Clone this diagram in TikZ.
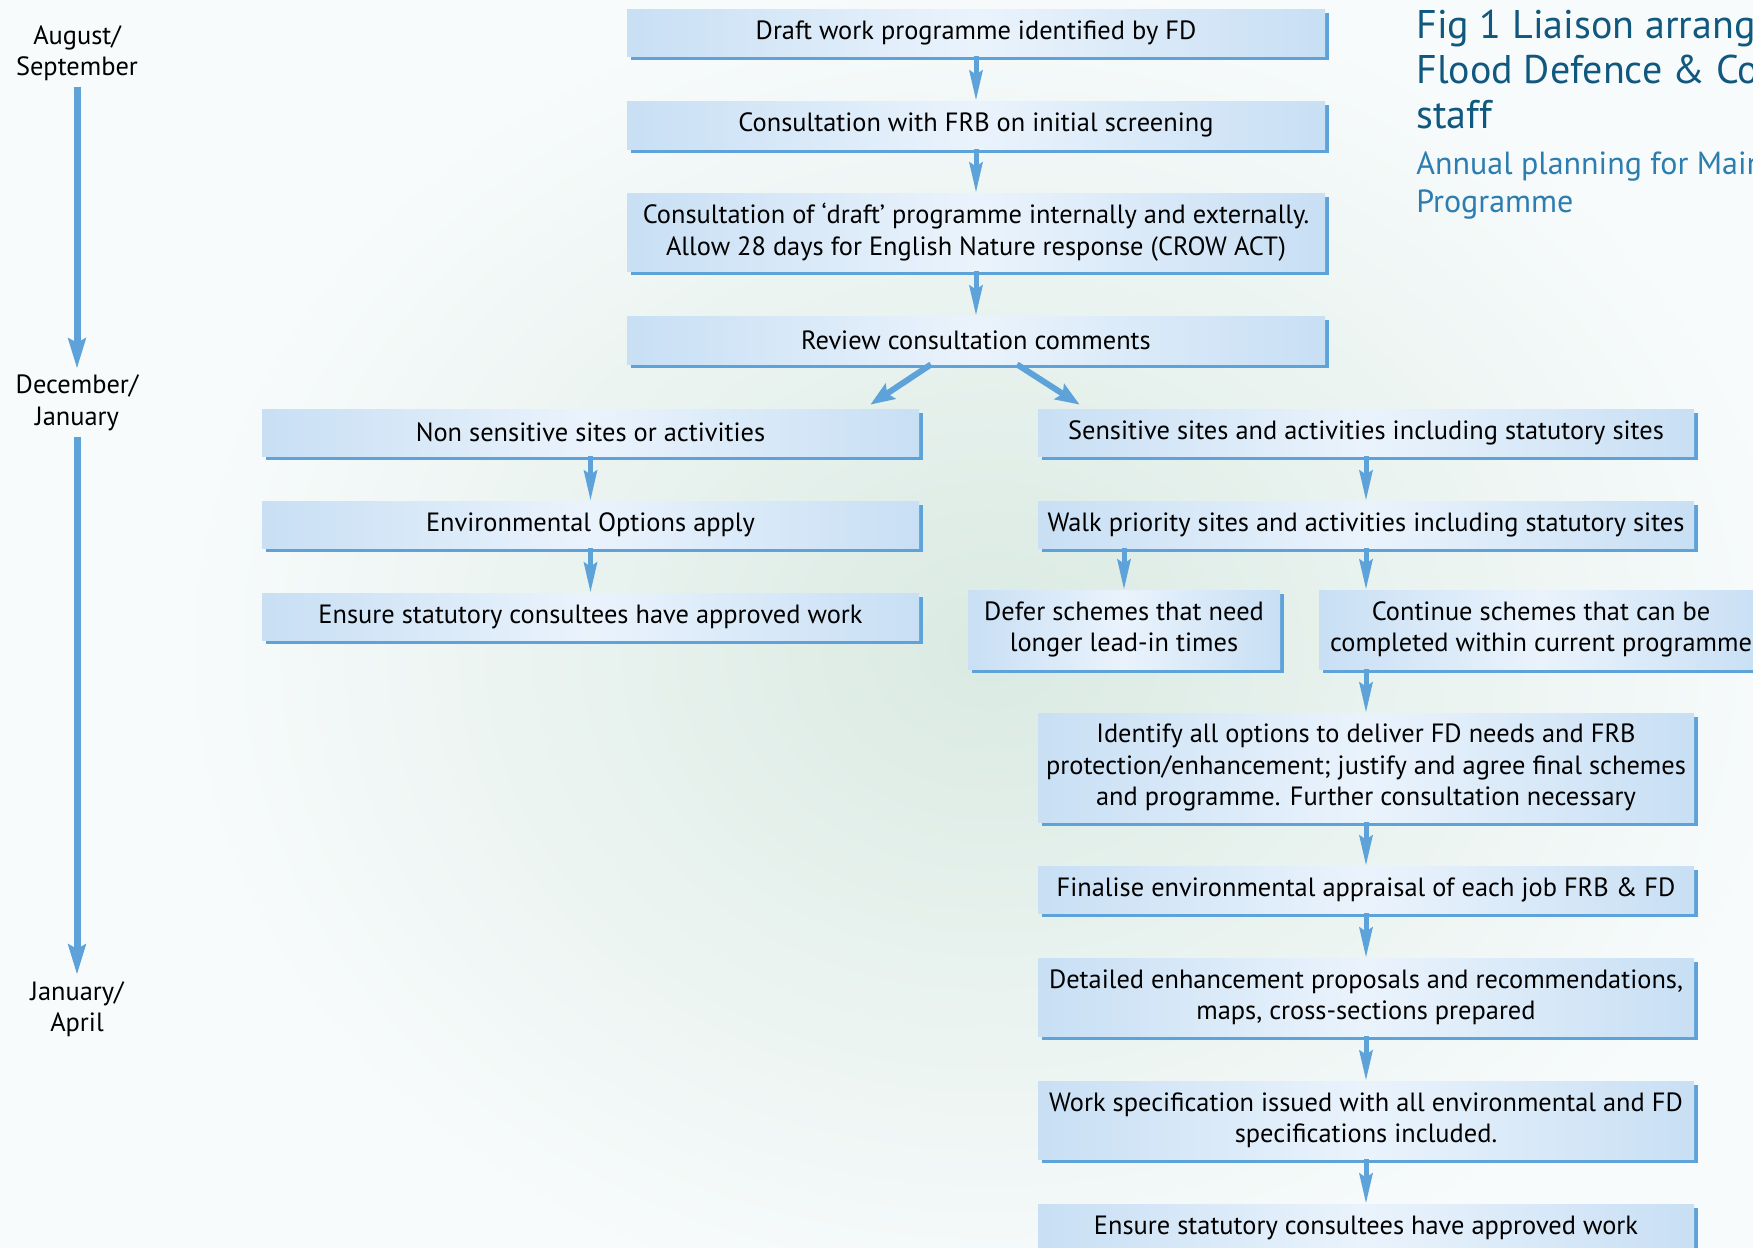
\documentclass[tikz,border=0pt]{standalone}
\usepackage{fontspec}
\setmainfont{PT Sans}
\usetikzlibrary{shadows,arrows.meta}
\definecolor{bleu}{HTML}{5DA3D9}
\definecolor{bord}{HTML}{C8DFF4}
\definecolor{centre}{HTML}{EAF3FC}
\definecolor{titre}{HTML}{11587F}
\definecolor{soustitre}{HTML}{2C7DB0}
\definecolor{fond}{HTML}{F8FBFC}
\definecolor{vert}{HTML}{DAEAE2}

\begin{document}
\begin{tikzpicture}[x=0.5pt,y=-0.5pt]
 \tikzstyle{boite}=[rectangle,align=center,inner sep=0pt,text=black,
   font=\fontsize{13.2}{15.7}\selectfont,
   left color=bord,right color=bord,middle color=centre,
   drop shadow={fill=bleu,opacity=1,shadow xshift=2pt,shadow yshift=-2pt}]
 \tikzstyle{fleche}=[-{Stealth[length=15pt,width=6.5pt,inset=2pt]},line width=2.5pt,draw=bleu]
 \tikzstyle{grosse}=[-{Stealth[length=12pt,width=9pt,inset=2pt]},line width=3pt,draw=bleu]
 \tikzstyle{temps}=[-{Stealth[length=15pt,width=8.5pt,inset=2pt]},line width=3.5pt,draw=bleu]
 \tikzstyle{mois}=[align=center,inner sep=3pt,font=\fontsize{13.2}{15.7}\selectfont]
 \useasboundingbox (0,0) rectangle (1753,1248);
 % fond
 \fill[fond] (0,0) rectangle (1753,1248);
 \shade[inner color=vert,outer color=fond] (990,650) ellipse (820 and 680);
 % titre
 \node[anchor=north west,align=left,inner sep=0pt,text=titre,
   font=\fontsize{20}{22.5}\selectfont] (titre) at (1416,10)
   {Fig 1 Liaison arrangements between\\Flood Defence \& Conservation\\staff};
 \node[anchor=north west,align=left,inner sep=0pt,text=soustitre,
   font=\fontsize{16}{19}\selectfont] (sous) at (1416,151)
   {Annual planning for Maintenance\\Programme};
 % calendrier
 \node[mois] (T1) at (77,53) {August/\\September};
 \node[mois] (T2) at (77,403) {December/\\January};
 \node[mois] (T3) at (77,1009) {January/\\April};
 \draw[temps] (T1) -- (T2);
 \draw[temps] (T2) -- (T3);
 % tronc commun
 \node[boite,minimum width=349pt,minimum height=23.5pt] (E1) at (976,32.5) {Draft work programme identified by FD};
 \node[boite,minimum width=349pt,minimum height=24pt] (E2) at (976,125) {Consultation with FRB on initial screening};
 \node[boite,minimum width=349pt,minimum height=39pt] (E3) at (976,232) {Consultation of `draft' programme internally and externally.\\Allow 28 days for English Nature response (CROW ACT)};
 \node[boite,minimum width=349pt,minimum height=24pt] (E4) at (976,340) {Review consultation comments};
 % branche gauche
 \node[boite,minimum width=328.5pt,minimum height=23.5pt] (L1) at (590.5,432.5) {Non sensitive sites or activities};
 \node[boite,minimum width=328.5pt,minimum height=23.5pt] (L2) at (590.5,524.5) {Environmental Options apply};
 \node[boite,minimum width=328.5pt,minimum height=23.5pt] (L3) at (590.5,616.5) {Ensure statutory consultees have approved work};
 % branche droite
 \node[boite,minimum width=328pt,minimum height=23.5pt] (R1) at (1366,432.5) {Sensitive sites and activities including statutory sites};
 \node[boite,minimum width=328pt,minimum height=23.5pt] (R2) at (1366,524.5) {Walk priority sites and activities including statutory sites};
 \node[boite,minimum width=156pt,minimum height=39.5pt] (R3) at (1124,629.5) {Defer schemes that need\\longer lead-in times};
 \node[boite,minimum width=222pt,minimum height=39.5pt] (R4) at (1541,629.5) {Continue schemes that can be\\completed within current programme};
 \node[boite,minimum width=328pt,minimum height=54.5pt] (R5) at (1366,767.5) {Identify all options to deliver FD needs and FRB\\protection/enhancement; justify and agree final schemes\\and programme. Further consultation necessary};
 \node[boite,minimum width=328pt,minimum height=23.5pt] (R6) at (1366,889.5) {Finalise environmental appraisal of each job FRB \& FD};
 \node[boite,minimum width=328pt,minimum height=39pt] (R7) at (1366,997) {Detailed enhancement proposals and recommendations,\\maps, cross-sections prepared};
 \node[boite,minimum width=328pt,minimum height=39pt] (R8) at (1366,1120) {Work specification issued with all environmental and FD\\specifications included.};
 \node[boite,minimum width=328pt,minimum height=23.5pt] (R9) at (1366,1227.5) {Ensure statutory consultees have approved work};
 % liaisons
 \draw[fleche] (E1) -- (E2);
 \draw[fleche] (E2) -- (E3);
 \draw[fleche] (E3) -- (E4);
 \draw[grosse] ([xshift=-22.5pt]E4.south) -- ([xshift=-24.5pt,yshift=2pt]L1.north east);
 \draw[grosse] ([xshift=20.5pt]E4.south) -- ([xshift=21pt,yshift=2pt]R1.north west);
 \draw[fleche] (L1) -- (L2);
 \draw[fleche] (L2) -- (L3);
 \draw[fleche] (R1) -- (R2);
 \draw[fleche] (R2.south -| R3.north) -- (R3.north);
 \draw[fleche] (R2.south) -- (R2.south |- R4.north);
 \draw[fleche] (R4.south -| R5.north) -- (R5.north);
 \draw[fleche] (R5) -- (R6);
 \draw[fleche] (R6) -- (R7);
 \draw[fleche] (R7) -- (R8);
 \draw[fleche] (R8) -- (R9);
\end{tikzpicture}
\end{document}
